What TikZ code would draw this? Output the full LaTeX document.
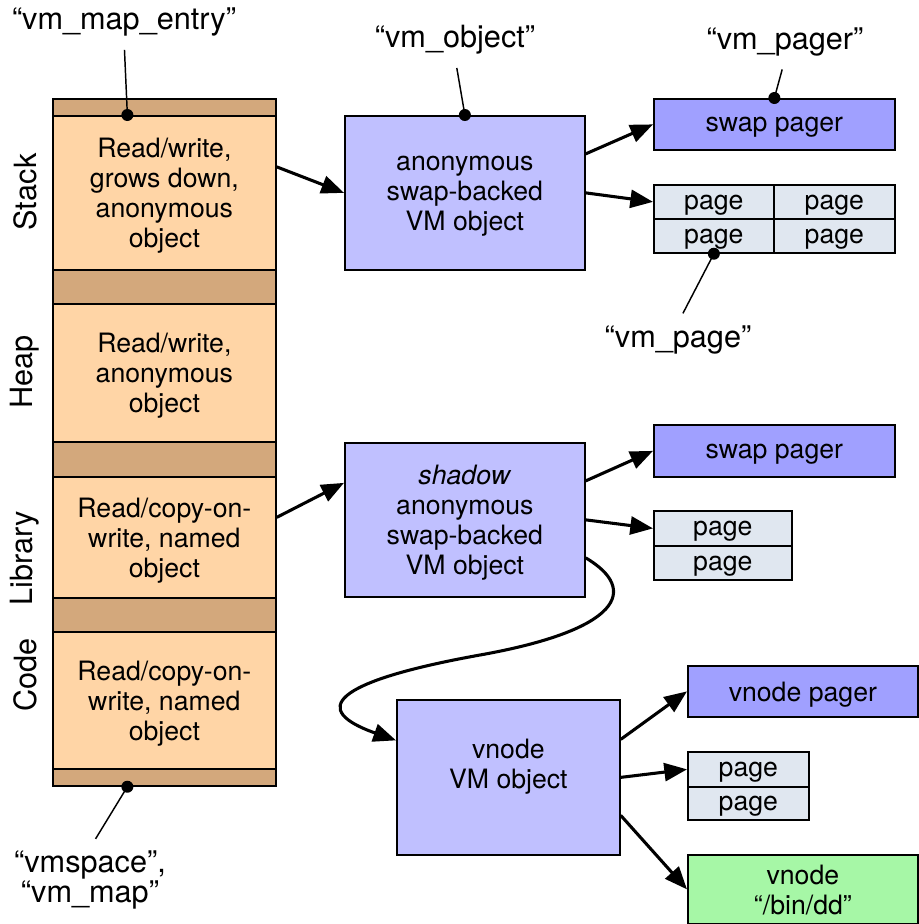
\documentclass[tikz,border=0pt]{standalone}
\usepackage{fontspec}
\setmainfont{TeX Gyre Heros}
\usetikzlibrary{arrows.meta}

\newcommand*\pxl{0.75pt}
\newcommand*\boxfont{\fontsize{20}{22.5}\selectfont}
\newcommand*\tagfont{\fontsize{23}{20}\selectfont}

\definecolor{regionfill}{RGB}{255,213,166}
\definecolor{bandfill}{RGB}{211,168,124}
\definecolor{objfill}{RGB}{192,192,255}
\definecolor{pagerfill}{RGB}{160,160,255}
\definecolor{pagefill}{RGB}{224,231,240}
\definecolor{vnodefill}{RGB}{166,247,166}

\tikzset{box/.style 2 args={
    draw,
    line width=1.3pt,
    rectangle,
    anchor=north west,
    inner sep=0pt,
    text depth=0pt,
    minimum width=#1*\pxl,
    minimum height=#2*\pxl,
    font=\boxfont,
    align=center
}}
\tikzset{
    tag/.style={font=\tagfont, align=center, inner sep=2pt},
    side/.style={font=\tagfont, rotate=90, inner sep=0pt},
    link/.style={line width=2.3pt, -{Triangle[length=17pt,width=13.5pt]}},
    leader/.style={line width=1.1pt, shorten <=8pt}
}

\begin{document}
\begin{tikzpicture}[x=\pxl,y=-\pxl]

    \useasboundingbox (0,0) rectangle (919,924);

    % The address space column, dark bands first.
    \node[box={223}{687}, fill=bandfill] (column) at (52,98) {};
    \node[box={223}{154}, fill=regionfill] (stack) at (52,115) {Read/write,\\grows down,\\anonymous\\object};
    \node[box={223}{138}, fill=regionfill] (heap) at (52,303) {Read/write,\\anonymous\\object};
    \node[box={223}{121}, fill=regionfill] (library) at (52,476) {Read/copy-on-\\write, named\\object};
    \node[box={223}{137}, fill=regionfill] (code) at (52,631) {Read/copy-on-\\write, named\\object};

    \node[side] (stacklbl) at (25,192) {Stack};
    \node[side] (heaplbl) at (25,372) {Heap};
    \node[side] (librarylbl) at (25,558) {Library};
    \node[side] (codelbl) at (25,675) {Code};

    % VM objects.
    \node[box={240}{154}, fill=objfill] (anonobj) at (344,115) {anonymous\\swap-backed\\VM object};
    \node[box={240}{154}, fill=objfill] (shadowobj) at (344,442) {\textit{shadow}\\anonymous\\swap-backed\\VM object};
    \node[box={223}{155}, fill=objfill] (vnodeobj) at (396,699) {};
    \node[font=\boxfont, align=center, text depth=0pt] (vnodetext) at ([yshift=14*\pxl]vnodeobj.center) {vnode\\VM object};

    % Pagers and the vnode.
    \node[box={241}{51}, fill=pagerfill] (swappagerA) at (653,98) {swap pager};
    \node[box={241}{52}, fill=pagerfill] (swappagerB) at (653,424) {swap pager};
    \node[box={230}{51}, fill=pagerfill] (vnodepager) at (687,665) {vnode pager};
    \node[box={230}{69}, fill=vnodefill] (bindd) at (687,854) {vnode\\``/bin/dd''};

    % Pages.
    \node[box={120}{34}, fill=pagefill] (pageA1) at (653,184) {page};
    \node[box={121}{34}, fill=pagefill] (pageA2) at (773,184) {page};
    \node[box={120}{34}, fill=pagefill] (pageA3) at (653,218) {page};
    \node[box={121}{34}, fill=pagefill] (pageA4) at (773,218) {page};
    \node[box={138}{35}, fill=pagefill] (pageB1) at (653,510) {page};
    \node[box={138}{34}, fill=pagefill] (pageB2) at (653,545) {page};
    \node[box={121}{35}, fill=pagefill] (pageC1) at (687,751) {page};
    \node[box={121}{33}, fill=pagefill] (pageC2) at (687,786) {page};

    % Arrows between the parts.
    \draw[link] ([yshift=26*\pxl]stack.east) -- (anonobj.west);
    \draw[link] ([yshift=39*\pxl]anonobj.east) -- (swappagerA.west);
    \draw[link] (anonobj.east) -- (pageA1.west);
    \draw[link] ([yshift=20*\pxl]library.east) -- ([yshift=37*\pxl]shadowobj.west);
    \draw[link] ([yshift=39*\pxl]shadowobj.east) -- (swappagerB.west);
    \draw[link] (shadowobj.east) -- (pageB1.west);
    \draw[link] ([yshift=-38*\pxl]shadowobj.east) .. controls (640,590) and (620,630) .. (480,655)
        .. controls (330,682) and (310,710) .. ([yshift=37*\pxl]vnodeobj.west);
    \draw[link] ([yshift=38*\pxl]vnodeobj.east) -- (vnodepager.west);
    \draw[link] (vnodeobj.east) -- (pageC1.west);
    \draw[link] ([yshift=-38*\pxl]vnodeobj.east) -- (bindd.west);

    % Structure names.
    \node[tag] (mapentrylbl) at (124,22) {``vm\_map\_entry''};
    \node[tag] (objectlbl) at (455,40) {``vm\_object''};
    \node[tag] (pagerlbl) at (785,42) {``vm\_pager''};
    \node[tag] (pagelbl) at (678,340) {``vm\_page''};
    \node[tag] (vmspacelbl) at (90,880) {``vmspace'',\\``vm\_map''};

    \draw[leader] (mapentrylbl.south) -- ([xshift=-37*\pxl]stack.north);
    \fill ([xshift=-37*\pxl]stack.north) circle (4.5pt);
    \draw[leader] (objectlbl.south) -- (anonobj.north);
    \fill (anonobj.north) circle (4.5pt);
    \draw[leader] (pagerlbl.south) -- (swappagerA.north);
    \fill (swappagerA.north) circle (4.5pt);
    \draw[leader] (pagelbl.north) -- (pageA3.south);
    \fill (pageA3.south) circle (4.5pt);
    \draw[leader] (vmspacelbl.north) -- ([xshift=-37*\pxl]column.south);
    \fill ([xshift=-37*\pxl]column.south) circle (4.5pt);

\end{tikzpicture}
\end{document}
